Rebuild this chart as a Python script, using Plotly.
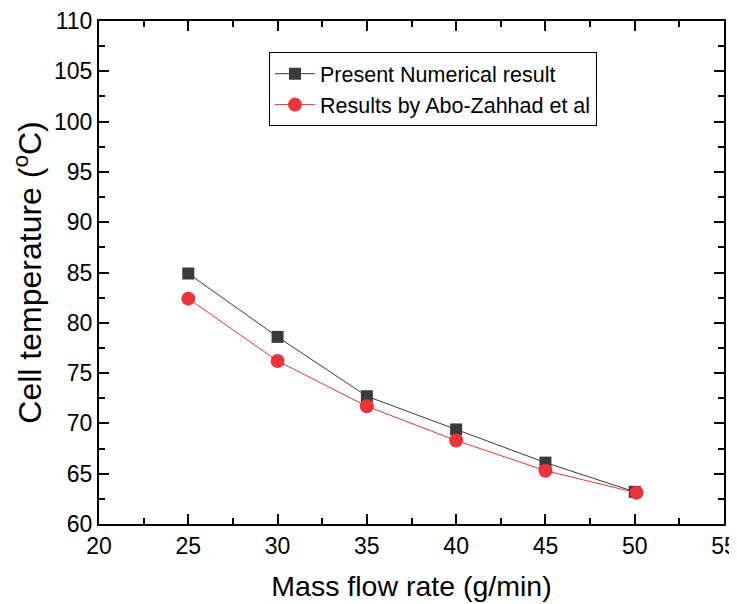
import plotly.graph_objects as go

flow = [25, 30, 35, 40, 45, 50]
present = [84.9, 78.6, 72.7, 69.4, 66.1, 63.2]
flow_ref = [25, 30, 35, 40, 45, 50.1]
abo = [82.4, 76.2, 71.7, 68.3, 65.3, 63.1]

fig = go.Figure()
fig.add_trace(go.Scatter(x=flow, y=present, mode="lines+markers",
                         name="Present Numerical result",
                         line=dict(color="#3a3a3a", width=1),
                         marker=dict(symbol="square", size=12, color="#3a3a3a")))
fig.add_trace(go.Scatter(x=flow_ref, y=abo, mode="lines+markers",
                         name="Results by Abo-Zahhad et al",
                         line=dict(color="#e8343a", width=1),
                         marker=dict(symbol="circle", size=14, color="#e8343a")))

FONT = "Arial, Liberation Sans"
axis_common = dict(showline=True, linecolor="black", linewidth=2, mirror="ticks",
                   ticks="inside", ticklen=10, tickwidth=2, tickcolor="black",
                   showgrid=False, zeroline=False, automargin=False,
                   tickfont=dict(family=FONT, size=23, color="black"))

fig.update_xaxes(range=[20, 55], dtick=5, tick0=20,
                 minor=dict(ticks="inside", ticklen=6, tickwidth=2, dtick=2.5, tickcolor="black"),
                 title=dict(text="Mass flow rate (g/min)", font=dict(family=FONT, size=28.5, color="black"), standoff=18),
                 **axis_common)
fig.update_yaxes(range=[60, 110], dtick=5, tick0=60,
                 minor=dict(ticks="inside", ticklen=6, tickwidth=2, dtick=2.5, tickcolor="black"),
                 title=dict(text="Cell temperature (<sup>o</sup>C)", font=dict(family=FONT, size=32, color="black"), standoff=8),
                 **axis_common)

fig.update_layout(width=729, height=596, margin=dict(l=91, r=13, t=13, b=80),
                  paper_bgcolor="white", plot_bgcolor="white",
                  font=dict(family=FONT, color="black"),
                  legend=dict(x=0.272, y=0.938, xanchor="left", yanchor="top",
                              bordercolor="black", borderwidth=1, bgcolor="white",
                              font=dict(family=FONT, size=21.5, color="black"), tracegroupgap=0,
                              itemwidth=40))

fig.write_html("out.html")
